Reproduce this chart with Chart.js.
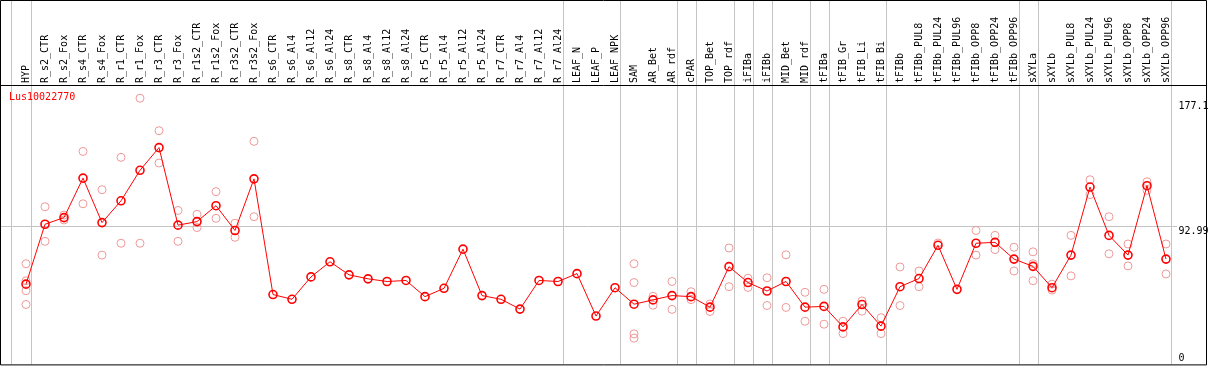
<!DOCTYPE html>
<html>
<head>
<meta charset="utf-8">
<script src="https://cdn.jsdelivr.net/npm/chart.js@4/dist/chart.umd.min.js"></script>
<style>
  body { margin: 0; background: #fff; }
  canvas { display: block; }
</style>
</head>
<body>
<canvas id="chart" width="1209" height="370"></canvas>
<script>
const seriesName = 'Lus10022770';

const categories = [
    'HYP', 'R_s2_CTR', 'R_s2_Fox', 'R_s4_CTR', 'R_s4_Fox', 'R_r1_CTR', 'R_r1_Fox', 'R_r3_CTR', 'R_r3_Fox',
    'R_r1s2_CTR', 'R_r1s2_Fox', 'R_r3s2_CTR', 'R_r3s2_Fox', 'R_s6_CTR', 'R_s6_Al4', 'R_s6_Al12', 'R_s6_Al24',
    'R_s8_CTR', 'R_s8_Al4', 'R_s8_Al12', 'R_s8_Al24', 'R_r5_CTR', 'R_r5_Al4', 'R_r5_Al12', 'R_r5_Al24',
    'R_r7_CTR', 'R_r7_Al4', 'R_r7_Al12', 'R_r7_Al24', 'LEAF_N', 'LEAF_P', 'LEAF_NPK', 'SAM', 'AR_Bet', 'AR_rdf',
    'cPAR', 'TOP_Bet', 'TOP_rdf', 'iFIBa', 'iFIBb', 'MID_Bet', 'MID_rdf', 'tFIBa', 'tFIB_Gr', 'tFIB_Li', 'tFIB_Bi',
    'tFIBb', 'tFIBb_PUL8', 'tFIBb_PUL24', 'tFIBb_PUL96', 'tFIBb_OPP8', 'tFIBb_OPP24', 'tFIBb_OPP96',
    'sXYLa', 'sXYLb', 'sXYLb_PUL8', 'sXYLb_PUL24', 'sXYLb_PUL96', 'sXYLb_OPP8', 'sXYLb_OPP24', 'sXYLb_OPP96'
];

// mean expression per sample
const means = [
    54.1, 94.5, 99.0, 125.6, 95.6, 110.3, 130.9, 146.2, 93.9, 96.3, 107.0, 90.3, 125.1,
    47.1, 43.9, 59.0, 69.2, 60.4, 57.7, 55.9, 56.6, 45.7, 51.3, 77.7, 46.4, 43.9, 37.3, 56.6, 55.9,
    61.2, 32.6, 51.7,
    40.6, 43.5, 46.4, 45.7, 38.6, 65.9, 55.2, 49.5, 55.9, 38.6, 39.1, 25.3, 40.4, 25.8,
    52.4, 57.9, 80.3, 50.6, 81.7, 82.3, 71.0,
    66.1, 51.7, 73.7, 119.6, 87.0, 73.7, 120.5, 71.0
];

// individual replicates (null = none shown)
const rep1 = [
    67.9, 106.3, 100.7, 143.6, 117.8, 139.6, 179.5, 157.6, 103.8, 101.2, 116.5, 95.2, 150.4,
    null, null, null, null, null, null, null, null, null, null, null, null, null, null, null, null,
    null, null, null,
    67.9, 45.9, 55.9, 49.0, 40.8, 78.5, 58.1, 58.4, 73.9, 48.6, 50.6, 29.1, 42.8, 31.5,
    65.7, 63.0, 81.9, null, 90.3, 87.0, 79.0,
    75.9, 54.1, 87.0, 124.5, 99.6, 81.2, 123.2, 81.2
];
const rep2 = [
    40.4, 83.0, 97.4, 108.3, 73.7, 81.7, 81.7, 135.8, 83.0, 92.3, 98.5, 85.7, 99.6,
    null, null, null, null, null, null, null, null, null, null, null, null, null, null, null, null,
    null, null, null,
    17.7, 39.9, 37.1, 43.7, 35.7, 52.4, 51.9, 39.7, 38.4, 29.1, 27.1, 20.8, 35.9, 20.8,
    39.7, 52.4, null, null, 73.7, 77.4, 63.0,
    56.4, 50.1, 59.7, 114.5, 74.6, 66.4, 117.4, 61.0
];
const rep3 = categories.map(c => ({ HYP: 56.4, SAM: 55.2, sXYLa: 67.9 })[c] ?? null);
const rep4 = categories.map(c => ({ HYP: 49.7, SAM: 20.6 })[c] ?? null);

const yTicks = [0, 92.99, 177.1];
const yMax = 188.4;
// last sample of each group, a separator is drawn right of it
const groupEnds = ['HYP', 'R_r7_Al24', 'LEAF_NPK', 'AR_rdf', 'cPAR', 'TOP_rdf', 'iFIBa', 'iFIBb',
    'MID_rdf', 'tFIBa', 'tFIB_Bi', 'tFIBb_OPP96', 'sXYLa', 'sXYLb_OPP96'];

const FONT = '10px "DejaVu Sans Mono", monospace';
const GRID = '#c4c4c4';

const frame = {
    id: 'frame',
    beforeDatasetsDraw(chart) {
        const { ctx, chartArea, scales: { x, y } } = chart;
        ctx.save();
        ctx.lineWidth = 1;
        ctx.strokeStyle = GRID;
        ctx.beginPath();
        const first = Math.round(x.getPixelForValue(0) - 15) + 0.5;
        ctx.moveTo(first, 0); ctx.lineTo(first, chartArea.bottom);
        groupEnds.forEach(name => {
            const px = Math.round(x.getPixelForValue(categories.indexOf(name)) + 4.5) + 0.5;
            ctx.moveTo(px, 0); ctx.lineTo(px, chartArea.bottom);
        });
        const gy = Math.round(y.getPixelForValue(yTicks[1])) + 0.5;
        ctx.moveTo(0, gy); ctx.lineTo(chartArea.right + 1.5, gy);
        ctx.stroke();

        ctx.strokeStyle = '#000';
        ctx.beginPath();
        ctx.rect(0.5, 0.5, 1206, chartArea.bottom);
        ctx.moveTo(0, chartArea.top + 0.5); ctx.lineTo(1207, chartArea.top + 0.5);
        ctx.stroke();
        ctx.restore();
    },
    afterDraw(chart) {
        const { ctx, chartArea, scales: { y } } = chart;
        ctx.save();
        ctx.font = FONT;
        ctx.textBaseline = 'middle';
        ctx.textAlign = 'left';
        ctx.fillStyle = '#000';
        yTicks.forEach(v => {
            let py = y.getPixelForValue(v) + 5;
            py = Math.min(py, chartArea.bottom - 6);
            ctx.fillText(String(v), chartArea.right + 3, py);
        });
        ctx.fillStyle = '#ff0000';
        ctx.fillText(seriesName, 9, chartArea.top + 12);
        ctx.restore();
    }
};

const repStyle = data => ({
    data: data,
    showLine: false,
    pointRadius: 4,
    pointBorderWidth: 1,
    pointBorderColor: '#ee9999',
    pointBackgroundColor: 'rgba(0,0,0,0)'
});

new Chart(document.getElementById('chart'), {
    type: 'line',
    data: {
        labels: categories,
        datasets: [
            {
                label: seriesName,
                data: means,
                borderColor: '#ff0000',
                borderWidth: 1,
                pointRadius: 4,
                pointBorderWidth: 1.6,
                pointBorderColor: '#ff0000',
                pointBackgroundColor: 'rgba(0,0,0,0)',
                tension: 0
            },
            repStyle(rep1), repStyle(rep2), repStyle(rep3), repStyle(rep4)
        ]
    },
    options: {
        responsive: false,
        animation: false,
        layout: { padding: { left: 16.5, right: 0, top: 0, bottom: 2 } },
        plugins: { legend: { display: false }, tooltip: { enabled: false } },
        scales: {
            x: {
                position: 'top',
                offset: true,
                grid: { display: false, drawTicks: false, tickLength: 0 },
                border: { display: false },
                ticks: {
                    autoSkip: false,
                    minRotation: 90,
                    maxRotation: 90,
                    padding: 2,
                    labelOffset: 12,
                    color: '#000',
                    font: { family: '"DejaVu Sans Mono", monospace', size: 10 }
                },
                afterFit: scale => { scale.height = 85; }
            },
            y: {
                position: 'right',
                min: 0,
                max: yMax,
                grid: { display: false },
                border: { display: false },
                ticks: { display: false },
                afterBuildTicks: scale => { scale.ticks = yTicks.map(v => ({ value: v })); },
                afterFit: scale => { scale.width = 33.5; }
            }
        }
    },
    plugins: [frame]
});
</script>
</body>
</html>
